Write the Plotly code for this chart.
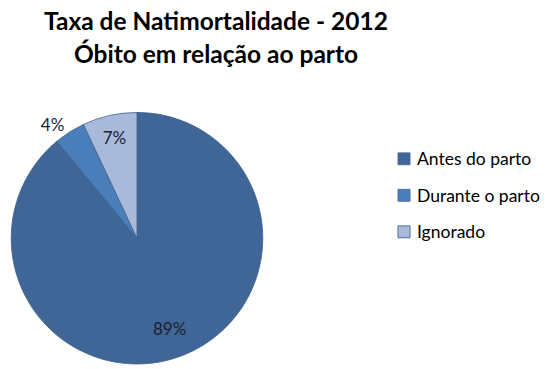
import math
import plotly.graph_objects as go

# Stillbirth share by moment of death relative to delivery (2012)
categories = ["Antes do parto", "Durante o parto", "Ignorado"]
values = [89, 4, 7]
slice_colors = ["#3F6696", "#4A7EBB", "#A8B9DA"]
text_positions = ["inside", "outside", "inside"]
title_lines = ["Taxa de Natimortalidade - 2012", "Óbito em relação ao parto"]

FONT = "Lato"
W, H = 546, 369
PIE_X = [9 / W, 265 / W]
PIE_Y = [0, 1 - 114 / H]

# The large slice gets its label further out, near the rim, as an annotation;
# the small slices use the trace's own text.
templates = ["", "%{value}%", "%{value}%"]

fig = go.Figure()
fig.add_trace(go.Pie(
    labels=categories,
    values=values,
    sort=False,
    direction="clockwise",
    rotation=0,
    marker=dict(colors=slice_colors, line=dict(color="#3A5E8C", width=0.8)),
    texttemplate=templates,
    textposition=text_positions,
    insidetextorientation="horizontal",
    textfont=dict(family=FONT, size=17, color="#1A1F2E"),
    domain=dict(x=PIE_X, y=PIE_Y),
    showlegend=False,
    hoverinfo="label+percent",
))

annotations = []

# Label for the first slice placed at its mid-angle, 3/4 of the radius out
total = sum(values)
mid_deg = values[0] / total * 360 / 2
radius_px = min((PIE_X[1] - PIE_X[0]) * W, (PIE_Y[1] - PIE_Y[0]) * H) / 2
cx = (PIE_X[0] + PIE_X[1]) / 2
cy = (PIE_Y[0] + PIE_Y[1]) / 2
rr = 0.76 * radius_px
annotations.append(dict(
    text=f"{values[0]}%",
    x=cx + rr * math.sin(math.radians(mid_deg)) / W,
    y=cy + rr * math.cos(math.radians(mid_deg)) / H,
    xref="paper", yref="paper", xanchor="center", yanchor="middle",
    showarrow=False, font=dict(family=FONT, size=17, color="#1A1F2E"),
))

# Two-line chart heading
for i, line in enumerate(title_lines):
    annotations.append(dict(
        text=f"<b>{line}</b>", x=216 / W, y=1 - (21 + 33 * i) / H,
        xref="paper", yref="paper", xanchor="center", yanchor="middle",
        showarrow=False, font=dict(family=FONT, size=24.5, color="#000000"),
    ))

# Legend drawn as swatches plus labels on the right
shapes = []
row_y = [161, 198, 235]
for name, color, yc in zip(categories, slice_colors, row_y):
    shapes.append(dict(
        type="rect", xref="paper", yref="paper",
        x0=398 / W, x1=410 / W,
        y0=1 - (yc + 6) / H, y1=1 - (yc - 6) / H,
        fillcolor=color, line=dict(color="#4F6F99", width=1),
    ))
    annotations.append(dict(
        text=name, x=415 / W, y=1 - yc / H,
        xref="paper", yref="paper", xanchor="left", yanchor="middle",
        showarrow=False, font=dict(family=FONT, size=17.5, color="#000000"),
    ))

fig.update_layout(
    width=W, height=H,
    margin=dict(l=0, r=0, t=0, b=0),
    paper_bgcolor="white", plot_bgcolor="white",
    annotations=annotations, shapes=shapes,
)

fig.write_html("out.html")
